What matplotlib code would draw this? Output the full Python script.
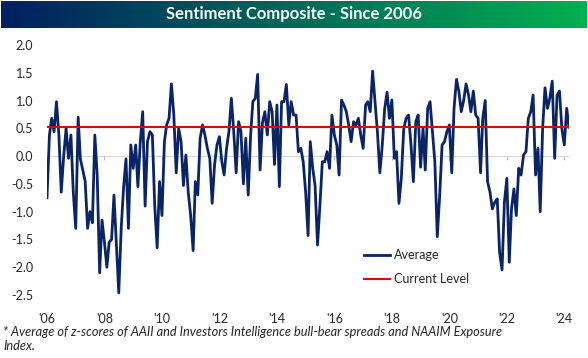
import numpy as np
import pandas as pd
import matplotlib
matplotlib.use('Agg')
import matplotlib.pyplot as plt
from matplotlib.colors import LinearSegmentedColormap

plt.rcParams['font.family'] = ['Lato', 'DejaVu Sans']
plt.rcParams['axes.unicode_minus'] = False

# monthly readings of the composite (z-score average), Jan 2006 - Mar 2024
y2006 = [-0.75, 0.38, 0.68, 0.44, 0.98, 0.38, -0.65, 0.0, 0.5, -0.04, 0.38, -0.65]
y2007 = [-1.3, 0.7, -0.05, -0.25, -0.45, -1.3, -1.0, -1.2, 0.38, -0.35, -2.1, -1.15]
y2008 = [-1.55, -2.0, -1.55, -1.5, -0.7, -1.6, -2.46, -1.3, -0.55, -0.05, -1.3, 0.2]
y2009 = [-0.22, 0.2, -0.55, 0.26, 0.8, -0.9, 0.26, 0.44, 0.38, -0.89, -1.65, -0.46]
y2010 = [-1.07, 0.26, 0.56, 0.68, 1.3, 0.74, -0.3, 0.5, 0.26, -0.53, 0.02, -0.65]
y2011 = [-1.07, -1.7, -0.46, -0.7, 0.32, 0.56, 0.38, 0.14, -0.04, -0.85, -0.15, 0.2]
y2012 = [0.35, -0.1, -0.34, 0.14, 0.44, 1.04, 0.44, -0.3, 0.62, 0.44, -0.5, 0.32]
y2013 = [-0.7, 0.38, 0.98, 1.04, 1.47, -0.25, 0.6, 0.8, 0.38, 0.98, 0.8, -0.15]
y2014 = [0.92, -0.55, 0.98, 0.98, 1.29, 0.56, 0.98, 0.74, 0.74, 0.08, 0.14, -0.1]
y2015 = [-0.65, -1.43, 0.26, -0.22, -0.53, -1.6, -0.9, -0.1, -0.1, 0.08, -0.22, 0.74]
y2016 = [0.38, 0.2, -0.34, 1.01, 0.92, 0.8, 0.56, 0.26, 0.62, 0.56, 0.68, 0.38]
y2017 = [0.14, 0.92, 0.98, 0.8, 1.53, 0.98, 0.44, -0.3, 0.2, 0.85, 1.15, 0.68]
y2018 = [1.01, -0.04, 0.08, -0.85, -0.4, 0.5, 0.68, 0.74, 0.2, -0.46, 0.62, 0.74]
y2019 = [-0.2, 0.5, -0.25, 0.86, 0.98, 0.44, -0.1, -1.45, -0.7, 0.2, 0.26, 0.44]
y2020 = [0.56, -0.3, 0.86, 1.38, 1.17, 0.8, 1.0, 1.3, 1.1, 0.8, 1.17, 0.74]
y2021 = [0.68, -0.3, 0.68, 1.0, -0.46, -0.65, -0.95, -0.83, -0.77, -1.73, -2.05, -0.83]
y2022 = [-0.4, -1.91, -0.95, -0.59, -1.07, -0.22, -0.34, 0.02, 0.08, 0.68, 0.8, 1.1]
y2023 = [-0.34, 0.14, -1.0, 0.5, 1.23, 0.86, 1.04, 1.35, -0.04, 1.1, 1.17, 0.5]
y2024 = [0.2, 0.86, 0.52]

average = (y2006 + y2007 + y2008 + y2009 + y2010 + y2011 + y2012 + y2013 + y2014
           + y2015 + y2016 + y2017 + y2018 + y2019 + y2020 + y2021 + y2022 + y2023 + y2024)
dates = pd.date_range('2006-01-01', periods=len(average), freq='MS')
current_level = 0.52

tick_years = list(range(2006, 2025, 2))
tick_labels = ["'%02d" % (yr % 100) for yr in tick_years]
y_ticks = np.arange(-2.5, 2.01, 0.5)

navy = '#0b2466'
red = '#e3000f'
txt = '#262626'

fig = plt.figure(figsize=(5.88, 3.58), dpi=100)

# title banner
ban = fig.add_axes([1/588, 1-28/358, 586/588, 27/358])
cmap = LinearSegmentedColormap.from_list('ban', ['#002060', '#00b050'])
ban.imshow(np.linspace(0, 1, 256)[None, :], cmap=cmap, aspect='auto')
ban.axis('off')
fig.text(0.5, 1-14.5/358, 'Sentiment Composite - Since 2006', color='white',
         fontsize=12, fontweight='bold', ha='center', va='center')

ax = fig.add_axes([47/588, 1-295/358, 522/588, 250/358])
ax.axhline(0, color='#d9d9d9', lw=0.8, zorder=0)
ax.plot(dates, average, color=navy, lw=2.0, label='Average', zorder=2)
ax.axhline(current_level, color=red, lw=1.5, label='Current Level', zorder=3)

ax.set_xlim(dates[0], dates[-1])
ax.set_ylim(-2.5, 2.0)
ax.set_yticks(y_ticks)
ax.set_yticklabels(['%.1f' % v for v in y_ticks])
tick_dates = pd.to_datetime(['%d-01-01' % yr for yr in tick_years])
ax.set_xticks(tick_dates)
ax.set_xticklabels(tick_labels)
ax.tick_params(axis='both', length=0, labelsize=9, labelcolor=txt)
ax.tick_params(axis='y', pad=10)
ax.tick_params(axis='x', pad=13)
for s in ax.spines.values():
    s.set_visible(False)

# small tick marks on the zero line
sec = ax.secondary_xaxis(2.5 / 4.5)
sec.set_xticks(tick_dates)
sec.xaxis.set_ticks_position('bottom')
sec.tick_params(axis='x', direction='out', length=3, color='#bfbfbf',
                labelbottom=False, labeltop=False)
for s in sec.spines.values():
    s.set_visible(False)

ax.legend(loc='upper left', bbox_to_anchor=(364/588, 1-249/358),
          bbox_transform=fig.transFigure, frameon=False, fontsize=9,
          handlelength=2.1, handletextpad=0.3, labelspacing=0.95,
          borderpad=0, borderaxespad=0, labelcolor=txt)

fig.text(3/588, 1-332/358,
         '* Average of z-scores of AAII and Investors Intelligence bull-bear spreads and NAAIM Exposure',
         style='italic', fontsize=9.2, color=txt, va='center')
fig.text(3/588, 1-346/358, 'Index.', style='italic', fontsize=9.2, color=txt, va='center')

fig.savefig('out.png', dpi=100)
